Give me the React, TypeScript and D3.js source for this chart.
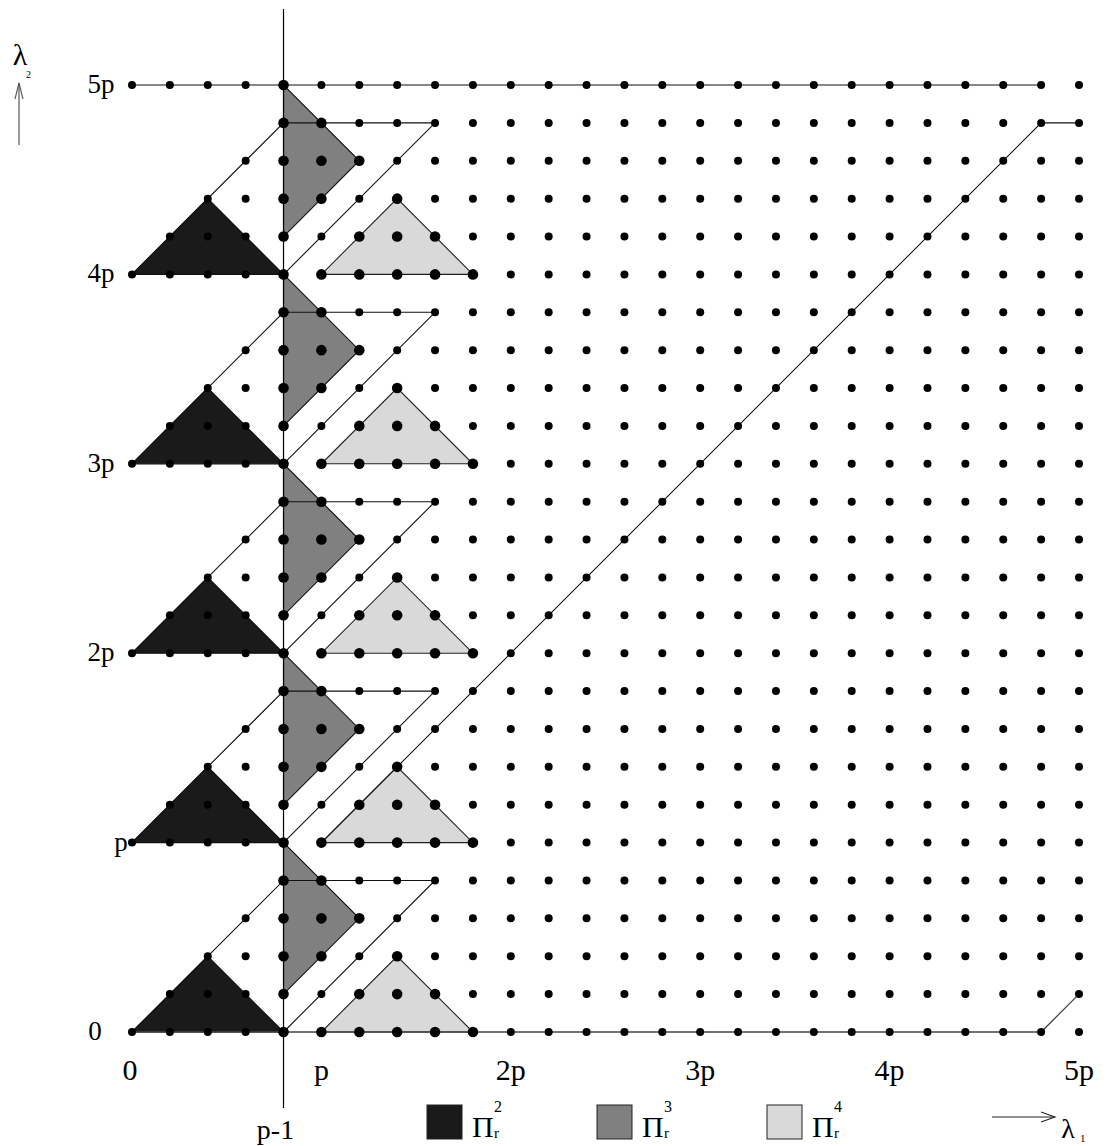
import React from "react";
import * as d3 from "d3";

// lattice extent (in lattice units), p = 5 units
const P = 5;
const N = 25;
const bandStarts = [0, 5, 10, 15, 20];

// shapes relative to band start row (lattice coordinates)
const blackTri: [number, number][] = [[0, 0], [4, 0], [2, 2]];
const grayTri: [number, number][] = [[4, 1], [6, 3], [4, 5]];
const lightTri: [number, number][] = [[5, 0], [9, 0], [7, 2]];
const zigzag: [number, number][] = [[0, 0], [4, 4], [8, 4], [4, 0]];

// absolute polylines
const bottomLine: [number, number][] = [[0, 0], [24, 0], [25, 1]];
const topLine: [number, number][] = [[0, 25], [24, 25]];
const longDiag: [number, number][] = [[5, 5], [24, 24], [25, 24]];
const wallColumn = 4; // p-1

const tickLabels = ["0", "p", "2p", "3p", "4p", "5p"];
const tickValues = [0, 5, 10, 15, 20, 25];
const yLabelX = [95, 121, 101, 101, 101, 101];

const legendItems = [
  { fill: "#1a1a1a", sup: "2" },
  { fill: "#808080", sup: "3" },
  { fill: "#d9d9d9", sup: "4" },
];
const legendX = [427, 597, 767];

const W = 1107;
const H = 1146;

function inTri(pt: [number, number], tri: [number, number][]) {
  const [px, py] = pt;
  const [a, b, c] = tri;
  const s = (p1: [number, number], p2: [number, number]) =>
    (px - p2[0]) * (p1[1] - p2[1]) - (p1[0] - p2[0]) * (py - p2[1]);
  const d1 = s(a, b), d2 = s(b, c), d3 = s(c, a);
  const neg = d1 < -1e-9 || d2 < -1e-9 || d3 < -1e-9;
  const pos = d1 > 1e-9 || d2 > 1e-9 || d3 > 1e-9;
  return !(neg && pos);
}

const serifStyle = { fontFamily: "Liberation Serif, Times New Roman, serif" };

export default function App() {
  const x = d3.scaleLinear().domain([0, N]).range([132, 1079]);
  const y = d3.scaleLinear().domain([0, N]).range([1032, 85]);
  const line = d3.line<[number, number]>().x((d) => x(d[0])).y((d) => y(d[1]));
  const shift = (pts: [number, number][], j0: number) =>
    pts.map(([a, b]) => [a, b + j0] as [number, number]);

  const grays = bandStarts.map((j0) => shift(grayTri, j0));
  const lights = bandStarts.map((j0) => shift(lightTri, j0));
  const blacks = bandStarts.map((j0) => shift(blackTri, j0));

  const dots: { i: number; j: number; big: boolean }[] = [];
  for (let j = 0; j <= N; j++) {
    for (let i = 0; i <= N; i++) {
      const r = j % P;
      if (i < wallColumn && i < r) continue;
      const pt: [number, number] = [i, j];
      const big =
        i === wallColumn ||
        grays.some((t) => inTri(pt, t)) ||
        lights.some((t) => inTri(pt, t));
      dots.push({ i, j, big });
    }
  }

  return (
    <svg
      width={W}
      height={H}
      viewBox={`0 0 ${W} ${H}`}
      style={{ position: "absolute", left: 0, top: 0, background: "#fff" }}
    >
      {/* triangles */}
      {blacks.map((t, k) => (
        <path key={"b" + k} d={line(t) + "Z"} fill="#1a1a1a" stroke="#111" strokeWidth={1.2} />
      ))}
      {grays.map((t, k) => (
        <path key={"g" + k} d={line(t) + "Z"} fill="#808080" stroke="#111" strokeWidth={1.1} />
      ))}
      {lights.map((t, k) => (
        <path key={"l" + k} d={line(t) + "Z"} fill="#d9d9d9" stroke="#222" strokeWidth={1.1} />
      ))}
      {/* zigzag outlines */}
      {bandStarts.map((j0) => (
        <path key={"z" + j0} d={line(shift(zigzag, j0)) || ""} fill="none" stroke="#111" strokeWidth={1.1} />
      ))}
      <path d={line(bottomLine) || ""} fill="none" stroke="#444" strokeWidth={1.3} />
      <path d={line(topLine) || ""} fill="none" stroke="#111" strokeWidth={1.2} />
      <path d={line(longDiag) || ""} fill="none" stroke="#111" strokeWidth={1.1} />
      {/* p-1 vertical line */}
      <line x1={x(wallColumn)} x2={x(wallColumn)} y1={9} y2={1108} stroke="#000" strokeWidth={1.2} />

      {/* dots */}
      {dots.map((d) => (
        <circle key={d.i + "-" + d.j} cx={x(d.i)} cy={y(d.j)} r={d.big ? 5.3 : 4} fill="#000" />
      ))}

      <g style={serifStyle} fill="#000">
        {/* y labels */}
        {tickValues.map((v, k) => (
          <text key={"yl" + k} x={yLabelX[k]} y={y(v) + 8} fontSize={27} textAnchor="middle">
            {tickLabels[k]}
          </text>
        ))}
        {/* x labels */}
        {tickValues.map((v, k) => (
          <text key={"xl" + k} x={x(v) + (k === 0 ? -2 : 0)} y={1080} fontSize={30} textAnchor="middle">
            {tickLabels[k]}
          </text>
        ))}
        <text x={x(wallColumn) - 8} y={1139} fontSize={28} textAnchor="middle">p-1</text>

        {/* lambda 2 axis hint */}
        <text x={20} y={65} fontSize={30} textAnchor="middle">λ</text>
        <text x={26} y={78} fontSize={10}>2</text>

        {/* legend */}
        {legendItems.map((it, k) => {
          const sx = legendX[k];
          return (
            <g key={"lg" + k}>
              <rect x={sx} y={1105} width={35} height={34} fill={it.fill} stroke="#222" strokeWidth={1} />
              <text x={sx + 45} y={1137} fontSize={30}>Π</text>
              <text x={sx + 67} y={1112} fontSize={16}>{it.sup}</text>
              <text x={sx + 67} y={1138} fontSize={15}>r</text>
            </g>
          );
        })}

        {/* lambda 1 label */}
        <text x={1068} y={1138} fontSize={28} textAnchor="middle">λ</text>
        <text x={1080} y={1142} fontSize={11}>1</text>
      </g>

      <line x1={19} x2={19} y1={145} y2={83} stroke="#555" strokeWidth={1.2} />
      <path d="M15,99 L19,83 L23,99" fill="none" stroke="#555" strokeWidth={1.1} />
      <line x1={992} x2={1055} y1={1117} y2={1117} stroke="#222" strokeWidth={1.1} />
      <path d="M1041,1112 L1055,1117 L1041,1122" fill="none" stroke="#222" strokeWidth={1.1} />
    </svg>
  );
}
